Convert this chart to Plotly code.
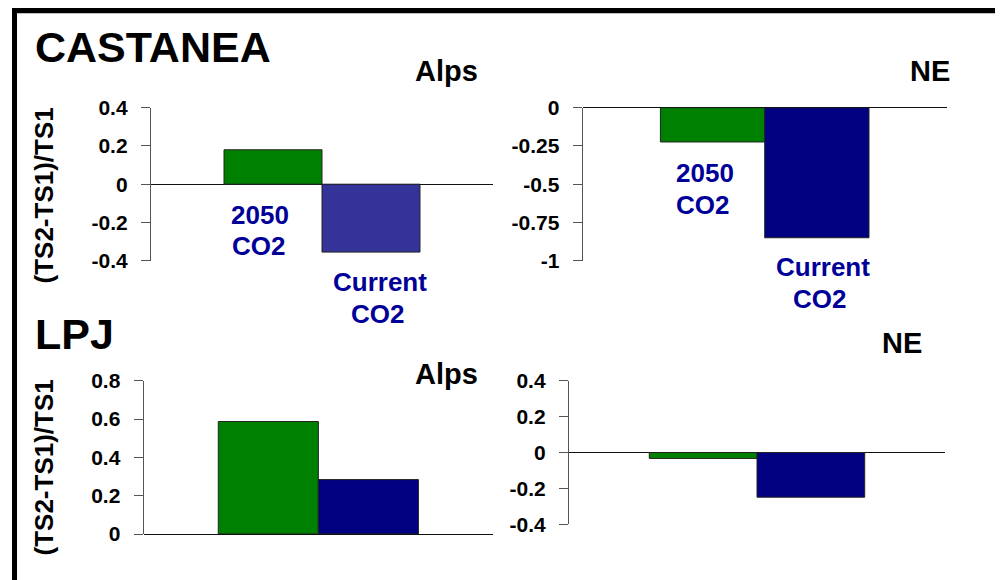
import plotly.graph_objects as go

W, H = 1003, 580
OFF = 8  # page body margin in the browser

# ---- data ----
category = ["A"]
series_names = ["2050 CO2", "Current CO2"]
castanea_alps = [0.18, -0.355]
castanea_ne = [-0.224, -0.85]
lpj_alps = [0.587, 0.284]
lpj_ne = [-0.033, -0.249]

castanea_alps_ticks = [0.4, 0.2, 0, -0.2, -0.4]
castanea_ne_ticks = [0, -0.25, -0.5, -0.75, -1]
lpj_alps_ticks = [0.8, 0.6, 0.4, 0.2, 0]
lpj_ne_ticks = [0.4, 0.2, 0, -0.2, -0.4]

green = "#008000"
blue_light = "#333399"
navy = "#000080"
label_col = "#000099"
FONT = "Liberation Sans, Arial, sans-serif"


def px_x(p):
    return (p - OFF) / W


def px_y(p):
    return 1 - (p - OFF) / H


panels = [
    (castanea_alps, castanea_alps_ticks, [-0.4, 0.4], (151, 493), (107.7, 260.7), [green, blue_light]),
    (castanea_ne, castanea_ne_ticks, [-1, 0], (582.7, 946.7), (107.7, 260.7), [green, navy]),
    (lpj_alps, lpj_alps_ticks, [0, 0.8], (143.7, 493), (380.7, 534), [green, navy]),
    (lpj_ne, lpj_ne_ticks, [-0.4, 0.4], (569, 945), (380.7, 524.3), [green, navy]),
]

fig = go.Figure()
layout = {}
for i, (vals, ticks, rng, xd, yd, cols) in enumerate(panels, start=1):
    xa = "x" if i == 1 else f"x{i}"
    ya = "y" if i == 1 else f"y{i}"
    for j in range(2):
        fig.add_trace(go.Bar(
            x=category, y=[vals[j]], name=series_names[j],
            marker=dict(color=cols[j], line=dict(color="#222222", width=1)),
            xaxis=xa, yaxis=ya, showlegend=False,
        ))
    xk = "xaxis" if i == 1 else f"xaxis{i}"
    yk = "yaxis" if i == 1 else f"yaxis{i}"
    layout[xk] = dict(domain=[px_x(xd[0]), px_x(xd[1])], anchor=ya, range=[-0.5, 0.5],
                      visible=False, type="category", automargin=False)
    layout[yk] = dict(domain=[px_y(yd[1]), px_y(yd[0])], anchor=xa, range=rng,
                      tickvals=ticks, ticktext=[("%g" % t) for t in ticks],
                      showline=True, linecolor="#555555", linewidth=1.3,
                      ticks="outside", ticklen=9, tickcolor="#555555", tickwidth=1.3,
                      showgrid=False, zeroline=True, zerolinecolor="#111111", zerolinewidth=1.3,
                      tickfont=dict(family=FONT, size=21, color="black", weight="bold"),
                      ticklabelstandoff=9, automargin=False)

fig.update_layout(**layout)
fig.update_layout(
    width=W, height=H, autosize=False,
    margin=dict(l=0, r=0, t=0, b=0, autoexpand=False),
    paper_bgcolor="white", plot_bgcolor="rgba(0,0,0,0)",
    barmode="group", bargap=0.427, bargroupgap=0,
)

ann = []


def text(x, y, s, size, color="black", xanchor="center", angle=0):
    ann.append(dict(x=px_x(x), y=px_y(y), xref="paper", yref="paper", text=s,
                    showarrow=False, xanchor=xanchor, yanchor="middle", textangle=angle,
                    font=dict(family=FONT, size=size, color=color, weight="bold")))


text(33, 47, "CASTANEA", 43, xanchor="left")
text(33, 334, "LPJ", 43, xanchor="left")
text(446, 71, "Alps", 29)
text(930, 71, "NE", 29)
text(446, 374, "Alps", 29)
text(902, 343, "NE", 29)
text(43.5, 196, "(TS2-TS1)/TS1", 26, angle=-90)
text(43.5, 468, "(TS2-TS1)/TS1", 26, angle=-90)

# bar labels (one annotation per line)
text(260, 214.5, "2050", 26, color=label_col)
text(258, 246, "CO2", 26, color=label_col)
text(380, 282, "Current", 26, color=label_col)
text(377, 313.7, "CO2", 26, color=label_col)
text(705, 172.5, "2050", 26, color=label_col)
text(702, 204.5, "CO2", 26, color=label_col)
text(823.3, 267, "Current", 26, color=label_col)
text(819, 298.8, "CO2", 26, color=label_col)

fig.update_layout(annotations=ann)

# frame (top and left edges)
fig.add_shape(type="line", xref="paper", yref="paper",
              x0=px_x(12), x1=1, y0=px_y(10.3), y1=px_y(10.3),
              line=dict(color="black", width=6))
fig.add_shape(type="line", xref="paper", yref="paper",
              x0=px_x(14.5), x1=px_x(14.5), y0=px_y(7.3), y1=0,
              line=dict(color="black", width=5))

fig.write_html("out.html")
